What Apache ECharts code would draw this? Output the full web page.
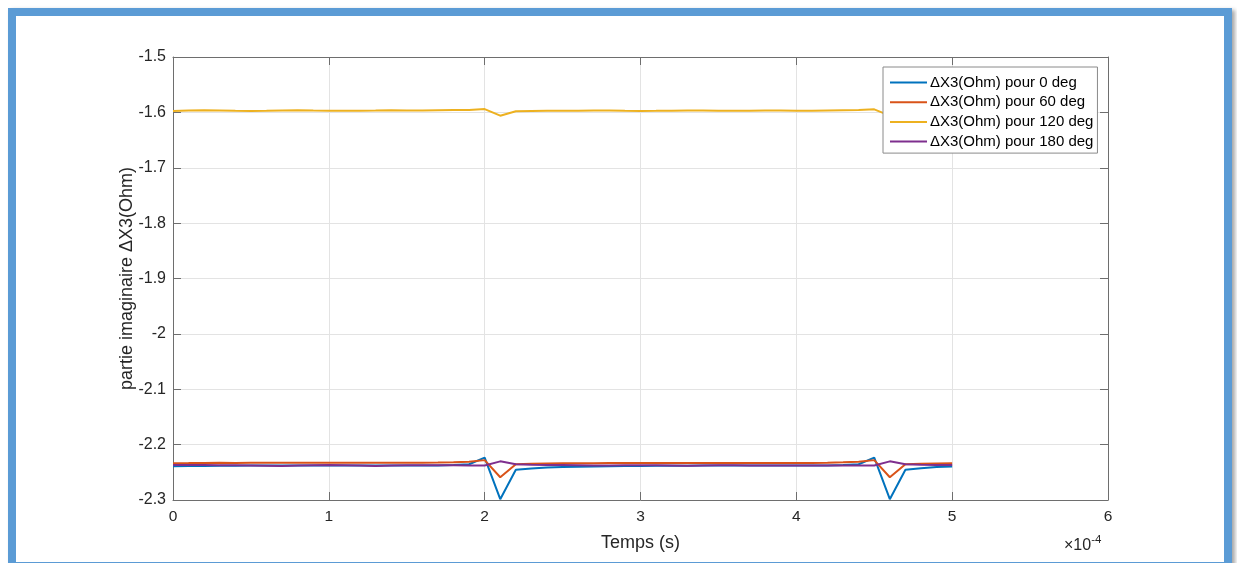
<!DOCTYPE html>
<html>
<head>
<meta charset="utf-8">
<script src="https://cdn.jsdelivr.net/npm/echarts@6/dist/echarts.min.js"></script>
<style>
  html, body { margin: 0; padding: 0; background: #fff; width: 1237px; height: 563px; overflow: hidden; }
  #frame { position: absolute; left: 8px; top: 8px; width: 1224px; height: 562px; box-sizing: border-box;
           border: 8px solid #5B9BD5; box-shadow: 3px 2px 4px rgba(0,0,0,0.35); background: #fff; }
  #chart { position: absolute; left: 0; top: 0; width: 1237px; height: 563px; }
</style>
</head>
<body>
<div id="frame"></div>
<div id="chart"></div>
<script>
// Time samples, in units of 1e-4 s
const time = [0.0, 0.1, 0.2, 0.3, 0.4, 0.5, 0.6, 0.7, 0.8, 0.9,
              1.0, 1.1, 1.2, 1.3, 1.4, 1.5, 1.6, 1.7, 1.8, 1.9,
              2.0, 2.1, 2.2, 2.3, 2.4, 2.5, 2.6, 2.7, 2.8, 2.9,
              3.0, 3.1, 3.2, 3.3, 3.4, 3.5, 3.6, 3.7, 3.8, 3.9,
              4.0, 4.1, 4.2, 4.3, 4.4, 4.5, 4.6, 4.7, 4.8, 4.9,
              5.0];

// Imaginary part of ΔX3 (Ohm) for each angle
const dx3_0deg = [
  -2.2390, -2.2388, -2.2385, -2.2383, -2.2380, -2.2378, -2.2378, -2.2377, -2.2376, -2.2377,
  -2.2377, -2.2376, -2.2376, -2.2378, -2.2377, -2.2376, -2.2377, -2.2375, -2.2370, -2.2355,
  -2.2235, -2.2985, -2.2455, -2.2430, -2.2415, -2.2405, -2.2400, -2.2395, -2.2392, -2.2388,
  -2.2385, -2.2383, -2.2381, -2.2380, -2.2379, -2.2378, -2.2378, -2.2377, -2.2377, -2.2376,
  -2.2376, -2.2376, -2.2375, -2.2370, -2.2355, -2.2235, -2.2985, -2.2455, -2.2425, -2.2405,
  -2.2395];
const dx3_60deg = [
  -2.2335, -2.2333, -2.2330, -2.2329, -2.2330, -2.2329, -2.2328, -2.2329, -2.2327, -2.2329,
  -2.2329, -2.2328, -2.2329, -2.2328, -2.2326, -2.2327, -2.2327, -2.2325, -2.2320, -2.2310,
  -2.2280, -2.2590, -2.2355, -2.2345, -2.2340, -2.2338, -2.2336, -2.2335, -2.2334, -2.2334,
  -2.2334, -2.2333, -2.2333, -2.2331, -2.2332, -2.2333, -2.2333, -2.2332, -2.2332, -2.2331,
  -2.2331, -2.2330, -2.2327, -2.2320, -2.2310, -2.2280, -2.2590, -2.2355, -2.2345, -2.2340,
  -2.2336];
const dx3_120deg = [
  -1.5975, -1.5968, -1.5962, -1.5966, -1.5972, -1.5974, -1.5972, -1.5967, -1.5962, -1.5968,
  -1.5972, -1.5972, -1.5970, -1.5967, -1.5963, -1.5966, -1.5966, -1.5962, -1.5958, -1.5955,
  -1.5940, -1.6060, -1.5980, -1.5975, -1.5972, -1.5972, -1.5970, -1.5966, -1.5968, -1.5972,
  -1.5973, -1.5972, -1.5970, -1.5966, -1.5968, -1.5971, -1.5972, -1.5970, -1.5967, -1.5968,
  -1.5972, -1.5971, -1.5966, -1.5962, -1.5958, -1.5945, -1.6060, -1.5980, -1.5975, -1.5972,
  -1.5972];
const dx3_180deg = [
  -2.2368, -2.2369, -2.2370, -2.2372, -2.2374, -2.2376, -2.2380, -2.2386, -2.2378, -2.2372,
  -2.2370, -2.2372, -2.2376, -2.2384, -2.2378, -2.2372, -2.2372, -2.2374, -2.2374, -2.2375,
  -2.2376, -2.2302, -2.2355, -2.2365, -2.2368, -2.2370, -2.2372, -2.2375, -2.2378, -2.2374,
  -2.2372, -2.2374, -2.2378, -2.2382, -2.2376, -2.2372, -2.2373, -2.2376, -2.2377, -2.2376,
  -2.2376, -2.2378, -2.2378, -2.2377, -2.2377, -2.2378, -2.2302, -2.2355, -2.2365, -2.2368,
  -2.2370];

const seriesNames = ['ΔX3(Ohm) pour 0 deg', 'ΔX3(Ohm) pour 60 deg', 'ΔX3(Ohm) pour 120 deg', 'ΔX3(Ohm) pour 180 deg'];
const seriesValues = [dx3_0deg, dx3_60deg, dx3_120deg, dx3_180deg];
const seriesColors = ['#0072BD', '#D95319', '#EDB120', '#7E2F8E'];

const xTickStep = 1, xMin = 0, xMax = 6;
const yTickStep = 0.1, yMin = -2.3, yMax = -1.5;

const FONT = '"Liberation Sans", Arial, Helvetica, sans-serif';
const AXIS_COLOR = '#6e6e6e';
const LABEL_COLOR = '#262626';

const chart = echarts.init(document.getElementById('chart'), null, { renderer: 'canvas' });

// Plain axis used to close the box (top and right) with inward ticks
const boxAxis = (extra) => Object.assign({
  type: 'value',
  axisLine: { show: true, onZero: false, lineStyle: { color: AXIS_COLOR, width: 1 } },
  axisTick: { show: true, inside: true, length: 8, lineStyle: { color: AXIS_COLOR } },
  axisLabel: { show: false },
  splitLine: { show: false }
}, extra);

chart.setOption({
  animation: false,
  backgroundColor: 'transparent',
  textStyle: { fontFamily: FONT },
  grid: { left: 173, top: 57, right: 129, bottom: 63, containLabel: false },
  legend: {
    orient: 'vertical',
    left: 883, top: 67,
    z: 20,
    padding: [8, 4, 4, 7],
    itemGap: 4.7,
    itemWidth: 37, itemHeight: 2,
    icon: 'rect',
    backgroundColor: '#fff',
    borderColor: '#8a8a8a', borderWidth: 1, borderRadius: 0,
    textStyle: { fontFamily: FONT, fontSize: 15, color: '#000', padding: [0, 0, 0, -2] },
    data: seriesNames
  },
  xAxis: [
    boxAxis({
      position: 'bottom', min: xMin, max: xMax, interval: xTickStep,
      axisLabel: { show: true, margin: 9, fontSize: 15.5, color: LABEL_COLOR, fontFamily: FONT },
      splitLine: { show: true, lineStyle: { color: '#e3e3e3', width: 1 } },
      name: 'Temps (s)', nameLocation: 'middle', nameGap: 34, nameMoveOverlap: false,
      nameTextStyle: { fontSize: 18, color: LABEL_COLOR, fontFamily: FONT }
    }),
    boxAxis({ position: 'top', min: xMin, max: xMax, interval: xTickStep })
  ],
  yAxis: [
    boxAxis({
      position: 'left', min: yMin, max: yMax, interval: yTickStep,
      axisLabel: { show: true, margin: 7, fontSize: 16, color: LABEL_COLOR, fontFamily: FONT,
                   formatter: v => String(Math.round(v * 10) / 10) },
      splitLine: { show: true, lineStyle: { color: '#e3e3e3', width: 1 } },
      name: 'partie imaginaire ΔX3(Ohm)', nameLocation: 'middle', nameGap: 37, nameMoveOverlap: false,
      nameTextStyle: { fontSize: 18, color: LABEL_COLOR, fontFamily: FONT }
    }),
    boxAxis({ position: 'right', min: yMin, max: yMax, interval: yTickStep })
  ],
  graphic: [{
    type: 'text', left: 1064, top: 534,
    style: {
      text: '{b|×10}{s|-4}',
      rich: {
        b: { fontFamily: FONT, fontSize: 16, fill: LABEL_COLOR, verticalAlign: 'bottom' },
        s: { fontFamily: FONT, fontSize: 11.5, fill: LABEL_COLOR, verticalAlign: 'top', padding: [0, 0, 8, 0] }
      }
    }
  }],
  series: seriesNames.map((name, i) => ({
    name: name,
    type: 'line',
    xAxisIndex: 0, yAxisIndex: 0,
    data: time.map((t, k) => [t, seriesValues[i][k]]),
    showSymbol: false, symbol: 'none',
    lineStyle: { color: seriesColors[i], width: 2 },
    itemStyle: { color: seriesColors[i] },
    z: 2
  }))
});
</script>
</body>
</html>
